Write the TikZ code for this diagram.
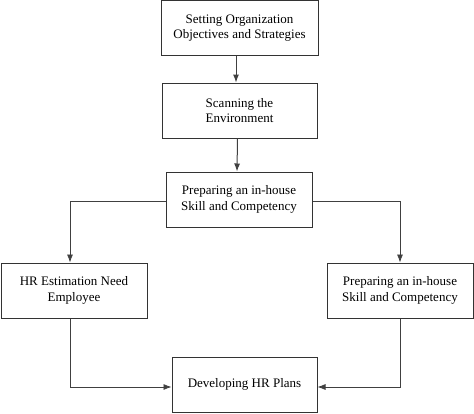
\documentclass[tikz,border=0pt]{standalone}
\usepackage{fontspec}
\setmainfont{Liberation Serif}
\usepackage{tikz}
\usetikzlibrary{arrows.meta}

\begin{document}
\begin{tikzpicture}
			[x=1pt,y=-1pt,
			 n/.style= {font=\fontsize{13}{15.5}\selectfont,align=center,draw=black!80,line width=1pt,minimum height=55pt,inner sep=0pt},
			 c/.style= {draw=black!75,line width=1pt,-{Latex[length=8pt,width=6pt]}}]

			\useasboundingbox (0,0) rectangle (474,413);

			\node[n,minimum width=157pt] (n0) at (239.5,28) {Setting Organization\\Objectives and Strategies};

			\node[n,minimum width=155pt] (n1) at (239.5,110.5) {Scanning the\\Environment};

			\node[n,minimum width=146pt] (n2) at (239,199.5) {Preparing an in-house\\Skill and Competency};

			\node[n,minimum width=146pt] (n3) at (74,290.5) {HR Estimation Need\\Employee};

			\node[n,minimum width=146pt] (n4) at (400,290.5) {Preparing an in-house\\Skill and Competency};

			\node[n,minimum width=145pt] (n5) at (244.5,384.5) {Developing HR Plans};

			% connectors
			\draw[c] ([xshift=-3.5pt]n0.south) -- ([xshift=-3.5pt]n1.north);
			\draw[c] ([xshift=-2pt]n1.south) -- ([xshift=-2pt]n2.north);
			\draw[c,line width=0.7pt] ([yshift=-1.5pt]n2.west) -| ([xshift=-4pt]n3.north);
			\draw[c,line width=0.7pt] ([yshift=-1.5pt]n2.east) -| (n4.north);
			\draw[c,line width=0.7pt] ([xshift=-4pt]n3.south) |- ([yshift=-2.5pt]n5.west);
			\draw[c,line width=0.7pt] (n4.south) |- ([yshift=-2.5pt]n5.east);

		\end{tikzpicture}
\end{document}
